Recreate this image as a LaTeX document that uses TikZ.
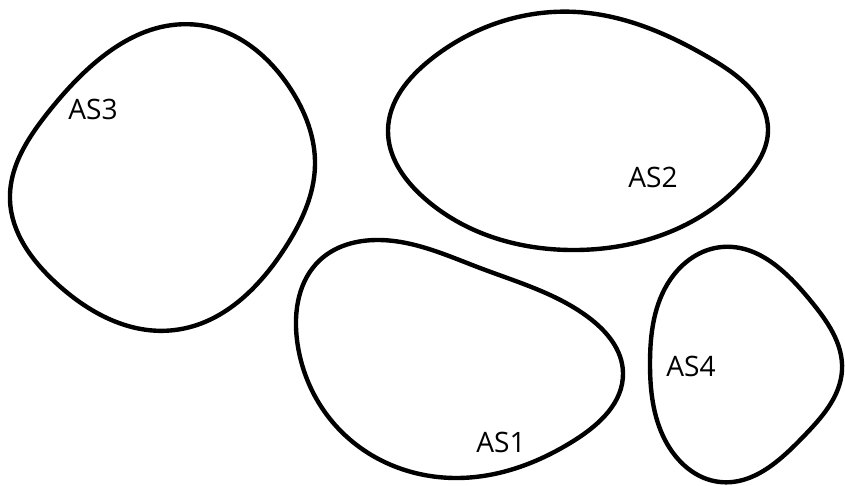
\documentclass[tikz,border=0pt]{standalone}
\usepackage{fontspec}
\setmainfont{Open Sans}
\usepackage{tikz}
\usetikzlibrary{positioning,hobby}

\begin{document}
\begin{tikzpicture}[x=0.02cm,y=-0.02cm,
  blob/.style={draw=black,line width=2.5pt,use Hobby shortcut,closed=true},
  every node/.style={font=\fontsize{16}{19}\selectfont}]
\useasboundingbox (0,0) rectangle (845,486);
% AS3
\draw[blob] (199,25) .. (290,88) .. (315,165) .. (285,248) .. (175,330) .. (55,282) .. (10,200) .. (50,110);
\node (as3) at (93,109) {AS3};
% AS2
\draw[blob] (577,12) .. (713,60) .. (768,130) .. (747,177) .. (577,250) .. (423,197) .. (388,130) .. (430,60);
\node (as2) at (653,177) {AS2};
% AS1
\draw[blob] (377,240) .. (480,268) .. (588,317) .. (623,373) .. (575,440) .. (457,478) .. (347,437) .. (297,340) .. (320,260);
\node (as1) at (501,442) {AS1};
% AS4
\draw[blob] (722,247) .. (810,300) .. (842,370) .. (803,437) .. (720,482) .. (665,440) .. (650,363) .. (670,280);
\node (as4) at (691,366) {AS4};
\end{tikzpicture}
\end{document}
